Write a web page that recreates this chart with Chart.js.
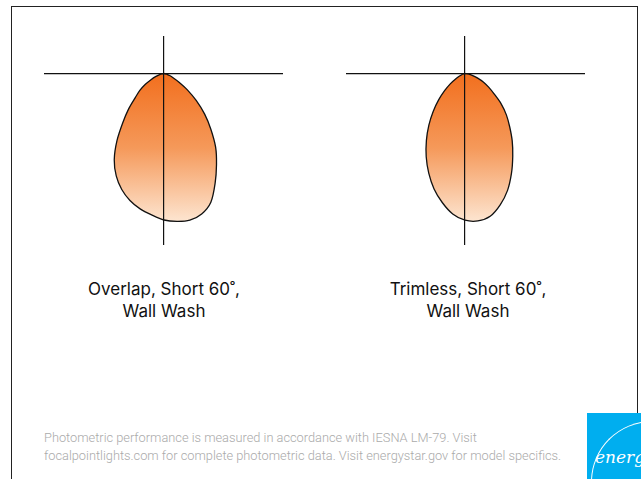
<!DOCTYPE html>
<html>
<head>
<meta charset="utf-8">
<script src="https://cdn.jsdelivr.net/npm/chart.js@4/dist/chart.umd.min.js"></script>
<style>
  body { margin:0; background:#fff; width:641px; height:479px; overflow:hidden; position:relative; font-family:Roboto, "Noto Sans", sans-serif; }
  .frame { position:absolute; left:11px; top:6px; width:625px; height:500px; border:1.5px solid #222; }
  .box { position:absolute; width:239px; height:209px; }
  .label { position:absolute; width:260px; text-align:center; font-family:Inter, Roboto, sans-serif; font-size:17px; line-height:22px; color:#111; }
  .note { position:absolute; left:44px; top:429px; font-size:12.8px; line-height:18px; color:#aaa; font-weight:300; }
  .logo { position:absolute; left:587px; top:413px; width:60px; height:70px; background:#00aeef; overflow:hidden; }
  .logo .arc { position:absolute; left:4px; top:8px; width:90px; height:60px; border-top:1.5px solid #fff; border-left:1.5px solid #fff; border-radius:70px 0 0 0; }
  .logo .txt { position:absolute; left:8px; top:34px; color:#fff; font-family:"DejaVu Serif", serif; font-style:italic; font-size:17px; }
</style>
</head>
<body>
<div class="frame"></div>
<div class="box" style="left:44px;top:36px"><canvas id="overlap"></canvas></div>
<div class="box" style="left:346px;top:36px"><canvas id="trimless"></canvas></div>
<div class="label" style="left:34px;top:278px">Overlap, Short 60˚,<br>Wall Wash</div>
<div class="label" style="left:338px;top:278px">Trimless, Short 60˚,<br>Wall Wash</div>
<div class="note">Photometric performance is measured in accordance with IESNA LM-79. Visit<br>focalpointlights.com for complete photometric data. Visit energystar.gov for model specifics.</div>
<div class="logo"><div class="arc"></div><div class="txt">energy</div></div>
<script>
// vertical angles from nadir (deg)
const angles = [0,5,10,15,20,25,30,35,40,45,50,55,60,65,70,75,80,85,90];
// relative candela, left half / right half of each distribution
const overlapLeft   = [1465,1420,1375,1315,1235,1130,995,820,640,500,375,295,215,140,90,50,25,10,0];
const overlapRight  = [1465,1485,1490,1455,1370,1210,1050,900,730,575,420,285,170,100,60,30,15,5,0];
const trimlessLeft  = [1467,1410,1310,1195,1060,918,772,630,495,373,264,180,105,60,35,20,10,5,0];
const trimlessRight = [1467,1480,1450,1360,1244,1100,955,823,695,585,472,355,273,205,135,80,40,15,0];

function toPoints(left, right) {
  const pts = [];
  for (let i = angles.length - 1; i >= 0; i--) {
    const a = angles[i] * Math.PI / 180;
    pts.push({x: -left[i] * Math.sin(a), y: -left[i] * Math.cos(a)});
  }
  for (let i = 1; i < angles.length; i++) {
    const a = angles[i] * Math.PI / 180;
    pts.push({x: right[i] * Math.sin(a), y: -right[i] * Math.cos(a)});
  }
  return pts;
}

function fillGrad(ctx) {
  const chart = ctx.chart;
  if (!chart.chartArea) return '#f37321';
  const y = chart.scales.y;
  const g = chart.ctx.createLinearGradient(0, y.getPixelForValue(0), 0, y.getPixelForValue(-1490));
  g.addColorStop(0, '#f26f1e');
  g.addColorStop(0.5, '#f5995a');
  g.addColorStop(1, '#fde6d2');
  return g;
}

const axisOnlyZero = {
  display: true,
  ticks: {display: false},
  border: {display: false},
  grid: {drawTicks: false, color: '#111', lineWidth: 1.2, z: 1},
  afterBuildTicks: (s) => { s.ticks = [{value: 0}]; }
};

function makeChart(id, left, right, xmin, xmax) {
  new Chart(document.getElementById(id), {
    type: 'scatter',
    data: {
      datasets: [{
        data: toPoints(left, right),
        showLine: true,
        fill: 'shape',
        backgroundColor: fillGrad,
        borderColor: '#111',
        borderWidth: 1.3,
        tension: 0.3,
        pointRadius: 0
      }]
    },
    options: {
      responsive: true,
      maintainAspectRatio: false,
      animation: false,
      layout: {padding: 0},
      plugins: {legend: {display: false}, tooltip: {enabled: false}},
      scales: {
        x: Object.assign({type: 'linear', min: xmin, max: xmax}, axisOnlyZero),
        y: Object.assign({type: 'linear', min: -1715, max: 375}, axisOnlyZero)
      }
    }
  });
}

makeChart('overlap', overlapLeft, overlapRight, -1200, 1190);
makeChart('trimless', trimlessLeft, trimlessRight, -1190, 1200);
</script>
</body>
</html>
